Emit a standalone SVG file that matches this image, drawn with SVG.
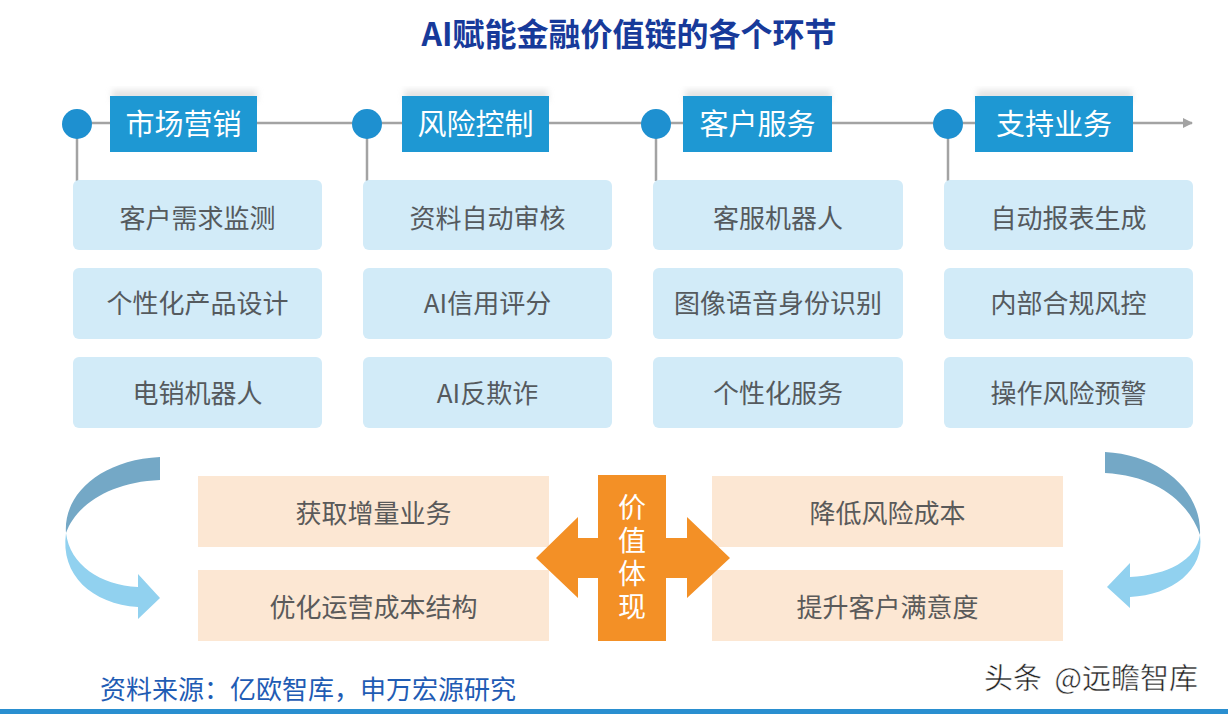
<svg xmlns="http://www.w3.org/2000/svg" width="1228" height="714" viewBox="0 0 1228 714">
<defs>
<style>
.t{font-family:"Noto Sans CJK SC","Liberation Sans",sans-serif}
.hd{fill:#1e98d3}
.hdt{fill:#ffffff;font-size:29px;text-anchor:middle}
.lb{fill:#d2ebf8}
.lbt{fill:#555a5e;font-size:26px;text-anchor:middle}
.pb{fill:#fce7d3}
.pbt{fill:#5a5a5a;font-size:26px;text-anchor:middle}
.dot{fill:#1e90d0}
.ln{stroke:#a3a3a3;stroke-width:2.5;fill:none}
</style>
<marker id="ah" markerWidth="10" markerHeight="10" refX="9" refY="5" orient="auto" markerUnits="userSpaceOnUse">
<path d="M0,0 L10,5 L0,10 Z" fill="#a3a3a3"/>
</marker>
<filter id="sh" x="-10%" y="-30%" width="120%" height="160%">
<feGaussianBlur stdDeviation="3"/>
</filter>
</defs>
<rect width="1228" height="714" fill="#ffffff"/>
<text class="t" x="629" y="46" font-size="32" font-weight="bold" fill="#173a9a" text-anchor="middle">AI赋能金融价值链的各个环节</text>

<g id="connectors">
<line class="ln" x1="77" y1="123" x2="1192" y2="123" marker-end="url(#ah)"/>
<line class="ln" x1="77" y1="123" x2="77" y2="181"/>
<line class="ln" x1="367" y1="123" x2="367" y2="181"/>
<line class="ln" x1="656" y1="123" x2="656" y2="181"/>
<line class="ln" x1="948" y1="123" x2="948" y2="181"/>
</g>

<g id="stage1">
<rect x="112" y="90" width="145" height="12" fill="#c8c8c8" opacity="0.5" filter="url(#sh)"/>
<rect class="hd" x="110" y="96" width="147" height="56"/>
<text class="t hdt" x="183.5" y="135">市场营销</text>
<circle class="dot" cx="77" cy="124" r="15"/>
</g>
<g id="stage2">
<rect x="404" y="90" width="144" height="12" fill="#c8c8c8" opacity="0.5" filter="url(#sh)"/>
<rect class="hd" x="402" y="96" width="147" height="56"/>
<text class="t hdt" x="475.5" y="135">风险控制</text>
<circle class="dot" cx="367" cy="124" r="15"/>
</g>
<g id="stage3">
<rect x="685" y="90" width="146" height="12" fill="#c8c8c8" opacity="0.5" filter="url(#sh)"/>
<rect class="hd" x="683" y="96" width="149" height="56"/>
<text class="t hdt" x="757.5" y="135">客户服务</text>
<circle class="dot" cx="656" cy="124" r="15"/>
</g>
<g id="stage4">
<rect x="977" y="90" width="155" height="12" fill="#c8c8c8" opacity="0.5" filter="url(#sh)"/>
<rect class="hd" x="975" y="96" width="158" height="56"/>
<text class="t hdt" x="1054" y="135">支持业务</text>
<circle class="dot" cx="948" cy="124" r="15"/>
</g>

<g id="c1r1"><rect class="lb" x="73" y="180" width="249" height="70" rx="6"/><text class="t lbt" x="197.5" y="228">客户需求监测</text></g>
<g id="c1r2"><rect class="lb" x="73" y="268" width="249" height="71" rx="6"/><text class="t lbt" x="197.5" y="313">个性化产品设计</text></g>
<g id="c1r3"><rect class="lb" x="73" y="357" width="249" height="71" rx="6"/><text class="t lbt" x="197.5" y="403">电销机器人</text></g>

<g id="c2r1"><rect class="lb" x="363" y="180" width="249" height="70" rx="6"/><text class="t lbt" x="487.5" y="228">资料自动审核</text></g>
<g id="c2r2"><rect class="lb" x="363" y="268" width="249" height="71" rx="6"/><text class="t lbt" x="487.5" y="313">AI信用评分</text></g>
<g id="c2r3"><rect class="lb" x="363" y="357" width="249" height="71" rx="6"/><text class="t lbt" x="487.5" y="403">AI反欺诈</text></g>

<g id="c3r1"><rect class="lb" x="653" y="180" width="250" height="70" rx="6"/><text class="t lbt" x="778" y="228">客服机器人</text></g>
<g id="c3r2"><rect class="lb" x="653" y="268" width="250" height="71" rx="6"/><text class="t lbt" x="778" y="313">图像语音身份识别</text></g>
<g id="c3r3"><rect class="lb" x="653" y="357" width="250" height="71" rx="6"/><text class="t lbt" x="778" y="403">个性化服务</text></g>

<g id="c4r1"><rect class="lb" x="944" y="180" width="249" height="70" rx="6"/><text class="t lbt" x="1068.5" y="228">自动报表生成</text></g>
<g id="c4r2"><rect class="lb" x="944" y="268" width="249" height="71" rx="6"/><text class="t lbt" x="1068.5" y="313">内部合规风控</text></g>
<g id="c4r3"><rect class="lb" x="944" y="357" width="249" height="71" rx="6"/><text class="t lbt" x="1068.5" y="403">操作风险预警</text></g>

<g id="leftArrow">
<path d="M160,457 L160,480 C110,482 76,505 66,533 C63,495 100,460 160,457 Z" fill="#74a8c6"/>
<path d="M66,533 C70,565 100,585 138,587 L138,574 L160,598 L138,619 L138,607 C92,604 60,575 66,533 Z" fill="#91d1ef"/>
</g>
<g id="rightArrow">
<path d="M1105,452 L1105,473 C1160,476 1190,505 1200,535 C1202,490 1160,455 1105,452 Z" fill="#74a8c6"/>
<path d="M1200,535 C1196,560 1168,575 1130,577 L1130,563 L1107,587 L1130,608 L1130,597 C1172,595 1205,570 1200,535 Z" fill="#91d1ef"/>
</g>

<g id="v1"><rect class="pb" x="198" y="476" width="351" height="71"/><text class="t pbt" x="373.5" y="523">获取增量业务</text></g>
<g id="v2"><rect class="pb" x="198" y="570" width="351" height="71"/><text class="t pbt" x="373.5" y="617">优化运营成本结构</text></g>
<g id="v3"><rect class="pb" x="712" y="476" width="351" height="71"/><text class="t pbt" x="887.5" y="523">降低风险成本</text></g>
<g id="v4"><rect class="pb" x="712" y="570" width="351" height="71"/><text class="t pbt" x="887.5" y="617">提升客户满意度</text></g>

<g id="center">
<path d="M598,475 L666,475 L666,538 L687,538 L687,517 L730,558 L687,598 L687,578 L666,578 L666,641 L598,641 L598,578 L578,578 L578,598 L536,558 L578,517 L578,538 L598,538 Z" fill="#f39026"/>
<text class="t" x="632" y="559" font-size="28" fill="#ffffff" text-anchor="middle" letter-spacing="5" style="writing-mode:vertical-rl">价值体现</text>
</g>

<text class="t" x="100" y="699" font-size="26" fill="#1f5cb4">资料来源：亿欧智库，申万宏源研究</text>
<text class="t" x="984" y="689" font-size="29" fill="#222222" stroke="#ffffff" stroke-width="0.5" word-spacing="6">头条 @远瞻智库</text>
<rect x="0" y="709" width="1228" height="5" fill="#2a8fd0"/>
</svg>
